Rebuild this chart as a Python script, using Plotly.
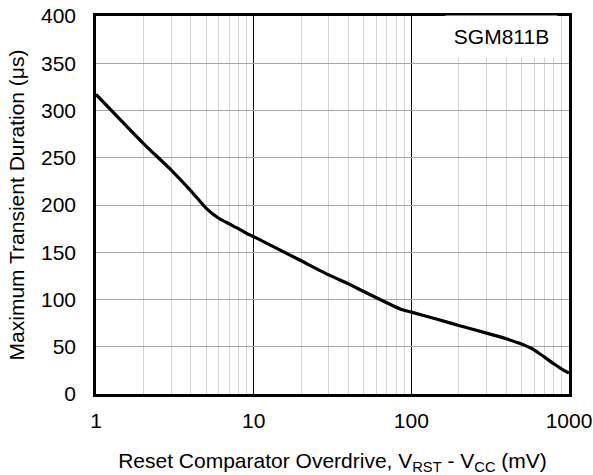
import plotly.graph_objects as go

overdrive_mv = [1, 2, 3, 4, 5, 6, 7, 8, 9, 10, 20, 30, 40, 50, 85, 100, 150, 200, 300, 400, 500, 600, 700, 800, 900, 1000]
duration_us = [317, 265, 237, 215, 196.5, 186, 180, 175, 170, 166.5, 141, 126, 116.5, 108.4, 90, 86.6, 78.5, 72.5, 64.4, 58.4, 52.8, 46.8, 39, 32, 26.4, 22.2]

x_ticks = [1, 10, 100, 1000]
y_ticks = [0, 50, 100, 150, 200, 250, 300, 350, 400]

FONT = "Arial, Liberation Sans, sans-serif"
FS = 21

fig = go.Figure()
fig.add_trace(go.Scatter(
    x=overdrive_mv, y=duration_us, mode="lines",
    line=dict(color="black", width=3.2, shape="spline", smoothing=0.5),
    showlegend=False,
))

fig.update_layout(
    width=593, height=475,
    margin=dict(l=96, r=24, t=16, b=81, autoexpand=False),
    paper_bgcolor="white", plot_bgcolor="white",
    font=dict(family=FONT, size=FS, color="black"),
)

fig.update_xaxes(
    type="log", range=[0, 3], automargin=False,
    tickvals=x_ticks, ticktext=[str(v) for v in x_ticks],
    showgrid=True, gridcolor="black", gridwidth=1,
    minor=dict(dtick="D1", showgrid=True, gridcolor="#d4d4d4", gridwidth=1, ticks=""),
    showline=True, linecolor="black", linewidth=2.5, mirror=True,
    ticks="", ticklabelstandoff=6, ticklabeloverflow="allow",
    tickfont=dict(size=FS),
    title=dict(text="Reset Comparator Overdrive, V<sub>RST</sub> - V<sub>CC</sub> (mV)",
               font=dict(size=FS), standoff=23),
    zeroline=False,
)

fig.update_yaxes(
    range=[0, 400], tickvals=y_ticks, automargin=False,
    showgrid=True, gridcolor="#a6a6a6", gridwidth=1,
    showline=True, linecolor="black", linewidth=2.5, mirror=True,
    ticks="", ticklabelstandoff=13, ticklabeloverflow="allow",
    tickfont=dict(size=FS),
    title=dict(text="Maximum Transient Duration (μs)", font=dict(size=FS), standoff=11),
    zeroline=False,
)

fig.add_annotation(
    text="SGM811B", xref="paper", yref="paper", x=0.9767, y=0.947,
    xanchor="right", yanchor="middle", showarrow=False,
    width=100, height=30,
    font=dict(size=FS, color="black"), bgcolor="white", borderpad=5.5,
)

fig.write_html("out.html", config={"displayModeBar": False},
               post_script="document.body.style.margin='0px';")
